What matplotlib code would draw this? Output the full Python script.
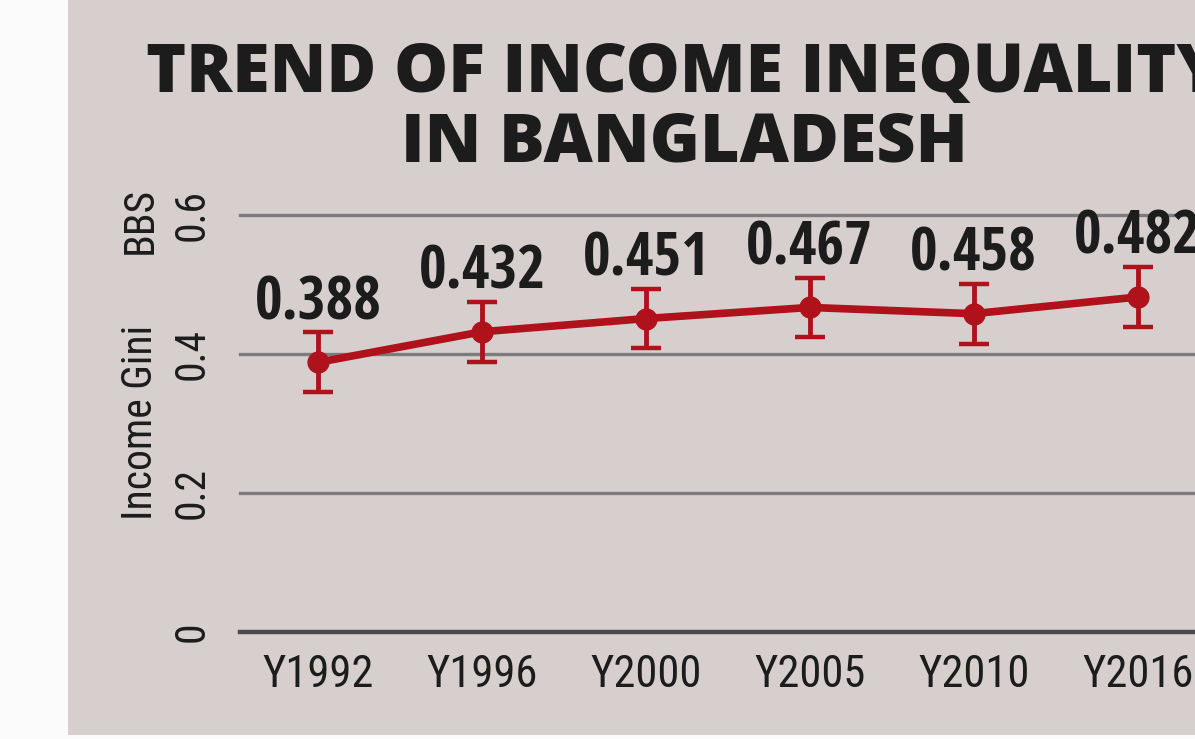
import matplotlib
matplotlib.use("Agg")
import matplotlib.pyplot as plt
from matplotlib.patches import Rectangle

categories = ["Y1992", "Y1996", "Y2000", "Y2005", "Y2010", "Y2016"]
gini = [0.388, 0.432, 0.451, 0.467, 0.458, 0.482]
errors = [0.043, 0.043, 0.043, 0.043, 0.043, 0.043]
yticks = [0, 0.2, 0.4, 0.6]
ytick_labels = ["0", "0.2", "0.4", "0.6"]
title_line1 = "TREND OF INCOME INEQUALITY"
title_line2 = "IN BANGLADESH"

W, H = 1195, 739
fig = plt.figure(figsize=(W / 100, H / 100), dpi=100)
fig.patch.set_facecolor("#fbfbfb")

panel = "#d6cfce"
fig.patches.append(Rectangle((68 / W, 4 / H), 1 - 68 / W, 1 - 4 / H,
                             transform=fig.transFigure, facecolor=panel,
                             edgecolor="none", zorder=0))

narrow = ["Roboto Condensed", "PT Sans Narrow", "IBM Plex Sans Condensed", "DejaVu Sans"]
narrow_bold = ["Open Sans Condensed", "Roboto Condensed", "IBM Plex Sans Condensed", "DejaVu Sans"]
boldfam = ["Open Sans", "DejaVu Sans"]
dark = "#1c1c1c"
red = "#b0121c"

ax = fig.add_axes([240 / W, (H - 632) / H, 1 - 240 / W, (632 - 215) / H])
ax.set_zorder(2)
ax.set_facecolor("none")
x = list(range(len(categories)))
ax.set_xlim(-0.476, 5.35)
ax.set_ylim(0, 0.6)

for v in yticks:
    if v == 0:
        ax.axhline(v, color="#4a4a4a", lw=3.2, zorder=1, clip_on=False)
    else:
        ax.axhline(v, color="#7d7b7b", lw=2.4, zorder=1, clip_on=False)

ax.errorbar(x, gini, yerr=errors, color=red, lw=5.5, marker="o", ms=15,
            elinewidth=3.5, capsize=11, capthick=3.2, zorder=3, clip_on=False)

for xi, v in zip(x, gini):
    ax.annotate(f"{v:.3f}", xy=(xi, v), xytext=(0, 31), textcoords="offset points",
                ha="center", va="baseline", fontsize=43, fontweight="bold",
                family=narrow_bold, color=dark)

for s in ax.spines.values():
    s.set_visible(False)
ax.set_xticks(x)
ax.set_xticklabels(categories, family=narrow, fontsize=32, color=dark)
ax.set_yticks(yticks)
ax.set_yticklabels(ytick_labels, family=narrow, fontsize=30, color=dark,
                   rotation=90, va="center")
ax.tick_params(axis="both", length=0)
ax.tick_params(axis="x", pad=16)
ax.tick_params(axis="y", pad=20)

fig.text(140 / W, 1 - 422 / H, "Income Gini", rotation=90, ha="center", va="center",
         family=narrow, fontsize=30, color=dark)
fig.text(140 / W, 1 - 220 / H, "BBS", rotation=90, ha="center", va="center",
         family=narrow, fontsize=30, color=dark)

fig.text(684 / W, 1 - 92 / H, title_line1, ha="center", va="baseline",
         family=boldfam, fontweight=800, fontsize=49, color=dark)
fig.text(684 / W, 1 - 162 / H, title_line2, ha="center", va="baseline",
         family=boldfam, fontweight=800, fontsize=49, color=dark)

fig.savefig("out.png", dpi=100, facecolor=fig.get_facecolor())
